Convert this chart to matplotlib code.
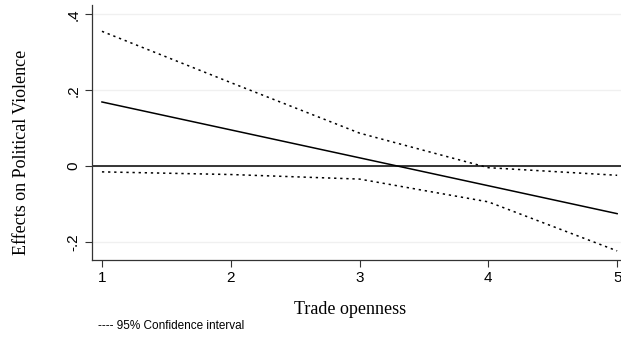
import matplotlib
matplotlib.use("Agg")
import matplotlib.pyplot as plt

trade = [1, 2, 3, 4, 5]
effect = [0.169, 0.0955, 0.022, -0.0515, -0.125]
upper = [0.355, 0.22, 0.087, -0.004, -0.024]
lower = [-0.015, -0.022, -0.034, -0.094, -0.223]
yticks = [-0.2, 0, 0.2, 0.4]
yticklabels = ["-.2", "0", ".2", ".4"]

fig = plt.figure(figsize=(6.21, 3.64), dpi=100)
ax = fig.add_axes([0.148, 0.2857, 0.852, 0.7003])

for y in yticks:
    ax.axhline(y, color="#f0f0f0", lw=1.0, zorder=0)
ax.axhline(0, color="black", lw=1.1, zorder=2)
ax.plot(trade, effect, color="black", lw=1.1, zorder=3)
ax.plot(trade, upper, color="black", lw=1.1, ls=(0, (1.5, 2.5)), zorder=3)
ax.plot(trade, lower, color="black", lw=1.1, ls=(0, (1.5, 2.5)), zorder=3)

ax.set_xlim(0.922, 5.03)
ax.set_ylim(-0.247, 0.424)
ax.set_xticks(trade)
ax.set_yticks(yticks)
ax.set_yticklabels(yticklabels, rotation=90, va="center")
for lab in ax.get_xticklabels() + ax.get_yticklabels():
    lab.set_fontfamily("Liberation Sans")
    lab.set_fontsize(11)
ax.tick_params(axis="both", direction="out", length=5, width=0.8, color="#333333", pad=3)
for s in ["top", "right"]:
    ax.spines[s].set_visible(False)
for s in ["left", "bottom"]:
    ax.spines[s].set_color("#333333")
    ax.spines[s].set_linewidth(0.9)

fig.text(0.564, 0.138, "Trade openness", fontfamily="Liberation Serif", fontsize=13,
         ha="center", va="baseline")
fig.text(0.035, 0.582, "Effects on Political Violence", fontfamily="Liberation Serif",
         fontsize=13, ha="center", va="center", rotation=90)

fig.text(0.158, 0.105, "---- 95% Confidence interval", fontfamily="Liberation Sans",
         fontsize=8.5, va="center", ha="left")

fig.savefig("out.png", dpi=100)
